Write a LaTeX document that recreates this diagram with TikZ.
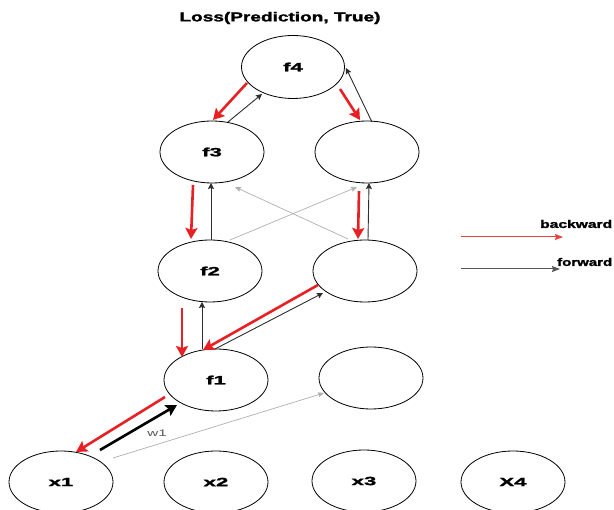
\documentclass[tikz,border=0pt]{standalone}
\usepackage{fontspec}
\usepackage{graphicx}
\setmainfont{Liberation Sans}
\newfontfamily\heavyfont[FakeBold=1.6]{Liberation Sans Bold}
\usetikzlibrary{arrows.meta,calc,shapes.geometric}

\definecolor{bwdred}{RGB}{232,32,36}
\definecolor{fwdgray}{RGB}{45,45,45}
\definecolor{skipgray}{RGB}{175,175,175}

% wide heavy labels
\newcommand{\widelabel}[1]{\scalebox{1.85}[1]{\heavyfont #1}}
\newcommand{\legendlabel}[2]{\resizebox{#1}{\height}{\fontsize{11}{13}\selectfont\heavyfont #2}}

\begin{document}
\begin{tikzpicture}[x=1pt,y=-1pt,
  unit/.style={ellipse,draw=black,line width=0.8pt,minimum width=104pt,minimum height=62pt,
    inner sep=0pt,font=\fontsize{12}{14}\selectfont},
  bwd/.style={draw=bwdred,line width=2.6pt,-{Stealth[length=11pt,width=12pt,inset=2pt]}},
  fwd/.style={draw=fwdgray,line width=0.9pt,-{Stealth[length=6pt,width=6pt,inset=1pt]}},
  fwdbold/.style={draw=black,line width=2.6pt,-{Stealth[length=11pt,width=12pt,inset=2pt]}},
  skip/.style={draw=skipgray,line width=0.7pt,-{Stealth[length=6pt,width=5pt,inset=1pt]}},
  legbwd/.style={draw=bwdred!85,line width=1pt,-{Stealth[length=8pt,width=6pt,inset=1pt]}},
  legfwd/.style={draw=fwdgray!80,line width=1pt,-{Stealth[length=8pt,width=6pt,inset=1pt]}}]
\useasboundingbox (0,0) rectangle (614,510);

% title
\node (title) at (280,18) {\resizebox{201pt}{\height}{\fontsize{13}{15}\selectfont\heavyfont Loss(Prediction, True)}};

% units
\node[unit,minimum width=103pt,minimum height=63pt] (f4) at (293,67) {\widelabel{f4}};
\node[unit] (f3) at (212,152) {\widelabel{f3}};
\node[unit] (r3) at (367,152) {};
\node[unit] (f2) at (210,271) {\widelabel{f2}};
\node[unit] (r2) at (365,271) {};
\node[unit] (f1) at (216,380) {\widelabel{f1}};
\node[unit] (r1) at (371,378) {};
\node[unit] (x1) at (61,482) {\widelabel{x1}};
\node[unit] (x2) at (216,482) {\widelabel{x2}};
\node[unit] (x3) at (364,481) {\widelabel{x3}};
\node[unit] (x4) at (513,482) {\widelabel{X4}};

% f4 <-> layer 3
\draw[bwd] ($(f4)+(-46,16)$) -- ($(f3)+(1,-32)$);
\draw[fwd] ($(f3)+(16,-30)$) -- ($(f4)+(-31,27)$);
\draw[bwd] ($(f4)+(47,22)$) -- ($(r3)+(-7,-32)$);
\draw[fwd] ($(r3)+(5,-30)$) -- ($(f4)+(53,1)$);

% layer 3 <-> layer 2
\draw[bwd] ($(f3)+(-19,33)$) -- ($(f2)+(-19,-32)$);
\draw[fwd] ($(f2)+(1,-31)$) -- ($(f3)+(-1,31)$);
\draw[bwd] ($(r3)+(-8,39)$) -- ($(r2)+(-7,-32)$);
\draw[fwd] ($(r2)+(3,-31)$) -- ($(r3)+(2,31)$);
\draw[skip] ($(r2)+(-17,-32)$) -- ($(f3)+(23,35)$);
\draw[skip] ($(f2)+(20,-31)$) -- ($(r3)+(-10,35)$);

% layer 2 <-> f1
\draw[bwd] ($(f2)+(-28,37)$) -- ($(f1)+(-34,-23)$);
\draw[fwd] ($(f1)+(-14,-31)$) -- ($(f2)+(-8,31)$);
\draw[bwd] ($(r2)+(-47,14)$) -- ($(f1)+(-13,-30)$);
\draw[fwd] ($(f1)+(-1,-31)$) -- ($(r2)+(-42,22)$);

% f1 <-> inputs
\draw[bwd] ($(f1)+(-51,17)$) -- ($(x1)+(15,-30)$);
\draw[fwdbold] ($(x1)+(39,-32)$) -- ($(f1)+(-39,25)$);
\node[text=black!65,font=\fontsize{9.5}{10}\selectfont,inner sep=0pt] (w1) at (157,433) {\scalebox{1.6}[1]{w1}};
\draw[skip] ($(x1)+(52,-24)$) -- ($(r1)+(-47,15)$);

% legend
\coordinate (lb0) at (461,237);
\coordinate (lb1) at (563,237);
\coordinate (lf0) at (461,269);
\coordinate (lf1) at (560,269);
\draw[legbwd] (lb0) -- (lb1);
\draw[legfwd] (lf0) -- (lf1);
\node[anchor=west,inner sep=0pt] (lbt) at (540,224) {\legendlabel{72pt}{backward}};
\node[anchor=west,inner sep=0pt] (lft) at (557,262) {\legendlabel{55pt}{forward}};
\end{tikzpicture}
\end{document}
